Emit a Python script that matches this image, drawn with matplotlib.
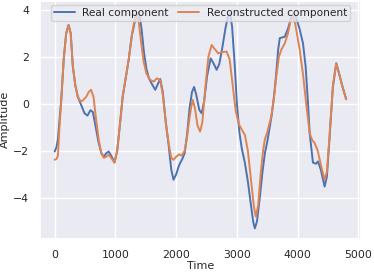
import matplotlib
matplotlib.use("Agg")
import matplotlib.pyplot as plt
import seaborn as sns

# values
t_real = [0, 30, 55, 80, 110, 150, 190, 230, 265, 300, 340, 382, 430, 492, 540,
          590, 630, 670, 720, 770, 810, 850, 890, 930, 985, 1030, 1070, 1120, 1170,
          1220, 1270, 1320, 1360, 1390, 1430, 1470, 1510, 1550, 1600, 1656, 1700,
          1738, 1780, 1830, 1874, 1920, 1956, 2000, 2050, 2100, 2140, 2180, 2220,
          2260, 2295, 2330, 2380, 2420, 2460, 2510, 2568, 2620, 2666, 2710, 2760,
          2810, 2850, 2885, 2920, 2960, 3000, 3040, 3080, 3130, 3180, 3230, 3270,
          3295, 3330, 3380, 3420, 3460, 3500, 3568, 3610, 3650, 3678, 3705, 3787,
          3840, 3890, 3930, 3970, 4030, 4087, 4130, 4170, 4197, 4251, 4300, 4333,
          4380, 4443, 4480, 4520, 4579, 4634, 4680, 4740, 4798]
real = [-2.03, -1.85, -1.5, -0.7, 0.2, 1.9, 3.0, 3.36, 3.0, 1.6, 0.8, 0.3, 0.0, -0.4, -0.5,
        -0.27, -0.35, -0.9, -1.6, -2.1, -2.25, -2.1, -2.03, -2.2, -2.5, -2.0, -1.0, 0.3, 1.1,
        1.9, 2.9, 3.5, 3.85, 3.9, 3.2, 2.2, 1.5, 1.1, 0.85, 0.6, 0.85,
        1.06, 0.5, -0.8, -1.7, -2.8, -3.23, -3.0, -2.6, -2.35, -2.1, -1.3, -0.2,
        0.5, 0.72, 0.4, -0.25, -0.4, 0.1, 1.2, 1.94, 1.7, 1.45, 1.7, 2.4,
        3.2, 3.7, 3.85, 3.3, 1.8, 0.0, -1.2, -1.9, -2.5, -3.3, -4.3, -5.05,
        -5.3, -5.0, -3.9, -2.9, -2.1, -1.6, -0.55, 0.3, 1.4, 2.3, 2.8, 2.86,
        3.2, 3.65, 3.85, 3.7, 3.2, 2.58, 1.6, 0.0, -1.25, -2.5, -2.55, -2.45,
        -2.8, -3.52, -3.1, -1.6, 0.74, 1.73, 1.3, 0.7, 0.2]

t_rec = [0, 30, 55, 80, 110, 150, 190, 230, 265, 300, 340, 382, 430, 465, 520,
         560, 600, 640, 680, 730, 770, 810, 850, 890, 930, 985, 1030, 1070, 1120,
         1170, 1220, 1270, 1310, 1345, 1380, 1420, 1465, 1510, 1574, 1630, 1684,
         1738, 1780, 1830, 1874, 1920, 1956, 2000, 2050, 2090, 2140, 2180, 2220,
         2250, 2273, 2310, 2350, 2393, 2430, 2480, 2530, 2584, 2630, 2693, 2760,
         2830, 2880, 2930, 2980, 3030, 3080, 3131, 3180, 3230, 3280, 3311, 3350,
         3390, 3430, 3460, 3500, 3568, 3610, 3650, 3690, 3730, 3787, 3840, 3880,
         3920, 3960, 4000, 4033, 4090, 4140, 4197, 4240, 4279, 4330, 4390, 4443,
         4480, 4520, 4579, 4634, 4680, 4740, 4798]
recon = [-2.38, -2.35, -2.2, -1.0, 0.17, 1.9, 3.0, 3.36, 3.0, 1.6, 0.8, 0.3, 0.1, 0.15, 0.3,
         0.5, 0.6, 0.3, -0.6, -1.6, -2.1, -2.3, -2.25, -2.17, -2.3, -2.5, -2.0, -1.0, 0.3,
         1.1, 1.9, 2.9, 3.5, 3.85, 3.6, 2.7, 1.8, 1.3, 1.02, 0.95, 1.09,
         1.0, 0.4, -0.8, -1.65, -2.3, -2.38, -2.25, -2.15, -2.2, -2.0, -1.4, -0.6,
         -0.1, 0.17, -0.2, -0.9, -1.18, -0.8, 0.7, 2.0, 2.51, 2.35, 2.15, 2.2,
         2.23, 1.9, 0.8, -0.3, -0.85, -1.1, -1.32, -2.0, -3.2, -4.4, -4.8, -4.3,
         -3.0, -2.0, -1.5, -1.2, -0.5, 0.3, 1.2, 2.0, 2.3, 2.58, 3.0, 3.5,
         3.75, 3.4, 2.8, 2.3, 1.2, 0.0, -1.25, -1.55, -1.67, -2.0, -2.7, -3.23,
         -2.9, -1.5, 0.74, 1.73, 1.3, 0.7, 0.2]

sns.set_theme(style="darkgrid")

fig = plt.figure(figsize=(3.74, 2.74), dpi=100)
ax = fig.add_axes([0.107, 0.128, 0.858, 0.870])
ax.plot(t_real, real, lw=1.4, label="Real component")
ax.plot(t_rec, recon, lw=1.4, label="Reconstructed component")
ax.set_xlim(-240, 5040)
ax.set_ylim(-5.75, 4.4)
ax.set_xticks([0, 1000, 2000, 3000, 4000, 5000])
ax.set_yticks([-4, -2, 0, 2, 4])
ax.tick_params(labelsize=7.8, pad=2)
ax.set_xlabel("Time", fontsize=8, labelpad=1)
ax.set_ylabel("Amplitude", fontsize=8, labelpad=2)
ax.legend(loc="upper center", ncol=2, fontsize=7.6, borderpad=0.3,
          handlelength=2.0, columnspacing=0.9, borderaxespad=0.4, handletextpad=0.7)

fig.savefig("out.png", dpi=100)
